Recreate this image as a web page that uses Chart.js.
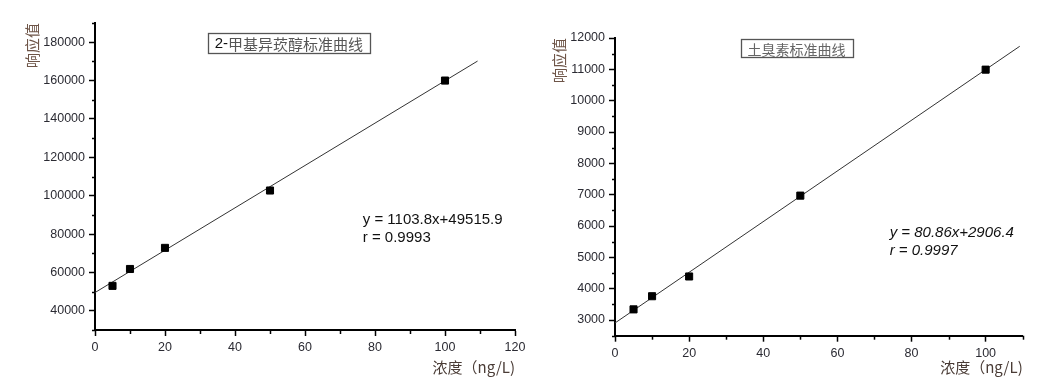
<!DOCTYPE html>
<html>
<head>
    <title>标准曲线</title>
    <meta charset="UTF-8">
    <script src="https://cdn.jsdelivr.net/npm/chart.js"></script>
    <style>
        body { margin: 0; background: #fff; }
        .wrap { position: relative; width: 1042px; height: 387px; overflow: hidden; }
        canvas { position: absolute; top: 0; }
        #mibChart { left: 0; }
        #geoChart { left: 520px; }
    </style>
</head>
<body>
<div class="wrap">
    <canvas id="mibChart" width="540" height="387"></canvas>
    <canvas id="geoChart" width="522" height="387"></canvas>
</div>
<script>
    // measured points (ng/L vs response)
    const concentrations = [5, 10, 20, 50, 100];
    const mibResponse = [53000, 61800, 72800, 102700, 160000];
    const geoResponse = [3340, 3760, 4390, 6970, 10990];

    // ends of the fitted lines
    const mibFitX = [0, 109.3];
    const mibFitY = [49516, 170160];
    const geoFitX = [0, 109.2];
    const geoFitY = [2906, 11736];

    // labelled ticks
    const mibXTicks = [0, 20, 40, 60, 80, 100, 120];
    const mibYTicks = [40000, 60000, 80000, 100000, 120000, 140000, 160000, 180000];
    const geoXTicks = [0, 20, 40, 60, 80, 100];
    const geoYTicks = [3000, 4000, 5000, 6000, 7000, 8000, 9000, 10000, 11000, 12000];

    const mibTitle = ['2-', '甲基异莰醇标准曲线'];
    const geoTitle = '土臭素标准曲线';
    const mibEquation = ['y = 1103.8x+49515.9', 'r = 0.9993'];
    const geoEquation = ['y = 80.86x+2906.4', 'r = 0.9997'];
    const yTitle = '响应值';
    const xTitle = '浓度（ng/L)';

    const toPoints = (xs, ys) => xs.map((x, i) => ({x: x, y: ys[i]}));

    // short ticks half way between the labelled ones
    const minorTicks = {
        id: 'minorTicks',
        afterDraw(chart) {
            const ctx = chart.ctx;
            ctx.save();
            ctx.strokeStyle = '#000';
            ctx.lineWidth = 1.5;
            ['x', 'y'].forEach(id => {
                const s = chart.scales[id];
                const vals = s.ticks.map(t => t.value);
                const half = (vals[1] - vals[0]) / 2;
                const minors = [];
                for (let v = vals[0] - half; v <= s.max + 1e-9; v += 2 * half) {
                    if (v >= s.min) minors.push(v);
                }
                minors.forEach(v => {
                    const p = Math.round(s.getPixelForValue(v)) + 0.5;
                    ctx.beginPath();
                    if (id === 'x') {
                        ctx.moveTo(p, s.top);
                        ctx.lineTo(p, s.top + 4);
                    } else {
                        ctx.moveTo(s.right, p);
                        ctx.lineTo(s.right - 3, p);
                    }
                    ctx.stroke();
                });
            });
            ctx.restore();
        }
    };

    // boxed title and fit equation inside the plot
    const notes = {
        id: 'notes',
        afterDraw(chart, args, opts) {
            const {ctx, scales: {x, y}} = chart;
            ctx.save();
            const b = opts.box;
            const cx = x.getPixelForValue(b.x);
            const cy = y.getPixelForValue(b.y);
            let total = 0;
            b.parts.forEach(p => {
                ctx.font = p.font;
                p.w = ctx.measureText(p.text).width;
                total += p.w;
            });
            const w = total + 2 * b.pad;
            ctx.strokeStyle = '#555';
            ctx.lineWidth = 1.3;
            ctx.strokeRect(Math.round(cx - w / 2) + 0.5, Math.round(cy - b.h / 2) + 0.5, Math.round(w), b.h);
            ctx.textBaseline = 'middle';
            ctx.textAlign = 'left';
            let tx = cx - total / 2;
            b.parts.forEach(p => {
                ctx.font = p.font;
                ctx.fillStyle = p.color;
                ctx.fillText(p.text, tx, cy + 1);
                tx += p.w;
            });
            ctx.font = opts.eqFont;
            ctx.fillStyle = '#111';
            opts.eq.forEach(l => {
                ctx.fillText(l.text, x.getPixelForValue(l.x), y.getPixelForValue(l.y));
            });
            ctx.restore();
        }
    };

    function makeChart(id, o) {
        const axisBorder = {display: true, color: '#000', width: 2};
        const axisGrid = {display: true, drawOnChartArea: false, drawTicks: true, tickLength: 6, tickWidth: 1.5, tickColor: '#000'};
        const tickFont = {family: 'Liberation Sans, Arial, sans-serif', size: 12.5};
        return new Chart(document.getElementById(id), {
            type: 'scatter',
            data: {
                datasets: [{
                    type: 'line',
                    data: o.fit,
                    borderColor: '#333',
                    borderWidth: 1,
                    pointRadius: 0,
                    fill: false,
                    order: 2
                }, {
                    data: o.points,
                    pointStyle: 'rect',
                    pointRadius: 5,
                    backgroundColor: '#000',
                    borderColor: '#000',
                    borderWidth: 1,
                    order: 1
                }]
            },
            options: {
                responsive: false,
                animation: false,
                devicePixelRatio: 1,
                layout: {padding: o.padding},
                plugins: {
                    legend: {display: false},
                    tooltip: {enabled: false},
                    notes: o.notes
                },
                scales: {
                    x: {
                        type: 'linear',
                        min: o.xMin,
                        max: o.xMax,
                        afterBuildTicks: s => { s.ticks = o.xTicks.map(v => ({value: v})); },
                        afterFit: s => { s.height = o.xHeight; },
                        border: axisBorder,
                        grid: axisGrid,
                        ticks: {color: '#2b2b33', font: tickFont, padding: 4, maxRotation: 0, callback: v => String(v)},
                        title: {
                            display: true,
                            text: xTitle,
                            align: 'end',
                            color: '#4a3c36',
                            font: {family: 'Noto Sans CJK SC', size: 15},
                            padding: {top: 0, bottom: 11}
                        }
                    },
                    y: {
                        type: 'linear',
                        min: o.yMin,
                        max: o.yMax,
                        afterBuildTicks: s => { s.ticks = o.yTicks.map(v => ({value: v})); },
                        afterFit: s => { s.width = 95; },
                        border: axisBorder,
                        grid: axisGrid,
                        ticks: {color: '#2b2b33', font: tickFont, padding: 4, callback: v => String(v)},
                        title: {
                            display: true,
                            text: yTitle,
                            align: 'end',
                            color: '#6e5548',
                            font: {family: 'Noto Sans CJK SC', size: 15},
                            padding: {top: o.yTitlePad, bottom: 0}
                        }
                    }
                }
            },
            plugins: [minorTicks, notes]
        });
    }

    makeChart('mibChart', {
        points: toPoints(concentrations, mibResponse),
        fit: toPoints(mibFitX, mibFitY),
        xMin: 0, xMax: 120, yMin: 30000, yMax: 190000,
        xTicks: mibXTicks, yTicks: mibYTicks,
        padding: {left: 0, right: 25, top: 23, bottom: 0},
        xHeight: 57,
        yTitlePad: 23,
        notes: {
            box: {
                x: 55.4, y: 179600, pad: 7, h: 20,
                parts: [
                    {text: mibTitle[0], font: '15px "Liberation Sans"', color: '#111'},
                    {text: mibTitle[1], font: '15px "Noto Sans CJK SC"', color: '#555'}
                ]
            },
            eqFont: '15px "Liberation Sans"',
            eq: [
                {text: mibEquation[0], x: 76.5, y: 87360},
                {text: mibEquation[1], x: 76.5, y: 77960}
            ]
        }
    });

    makeChart('geoChart', {
        points: toPoints(concentrations, geoResponse),
        fit: toPoints(geoFitX, geoFitY),
        xMin: 0, xMax: 110, yMin: 2500, yMax: 12000,
        xTicks: geoXTicks, yTicks: geoYTicks,
        padding: {left: 0, right: 19.3, top: 38, bottom: 0},
        xHeight: 51.3,
        yTitlePad: 30,
        notes: {
            box: {
                x: 49.0, y: 11665, pad: 7, h: 18,
                parts: [
                    {text: geoTitle, font: '14px "Noto Sans CJK SC"', color: '#666'}
                ]
            },
            eqFont: 'italic 15px "Liberation Sans"',
            eq: [
                {text: geoEquation[0], x: 74.1, y: 5789},
                {text: geoEquation[1], x: 74.1, y: 5214}
            ]
        }
    });
</script>
</body>
</html>
